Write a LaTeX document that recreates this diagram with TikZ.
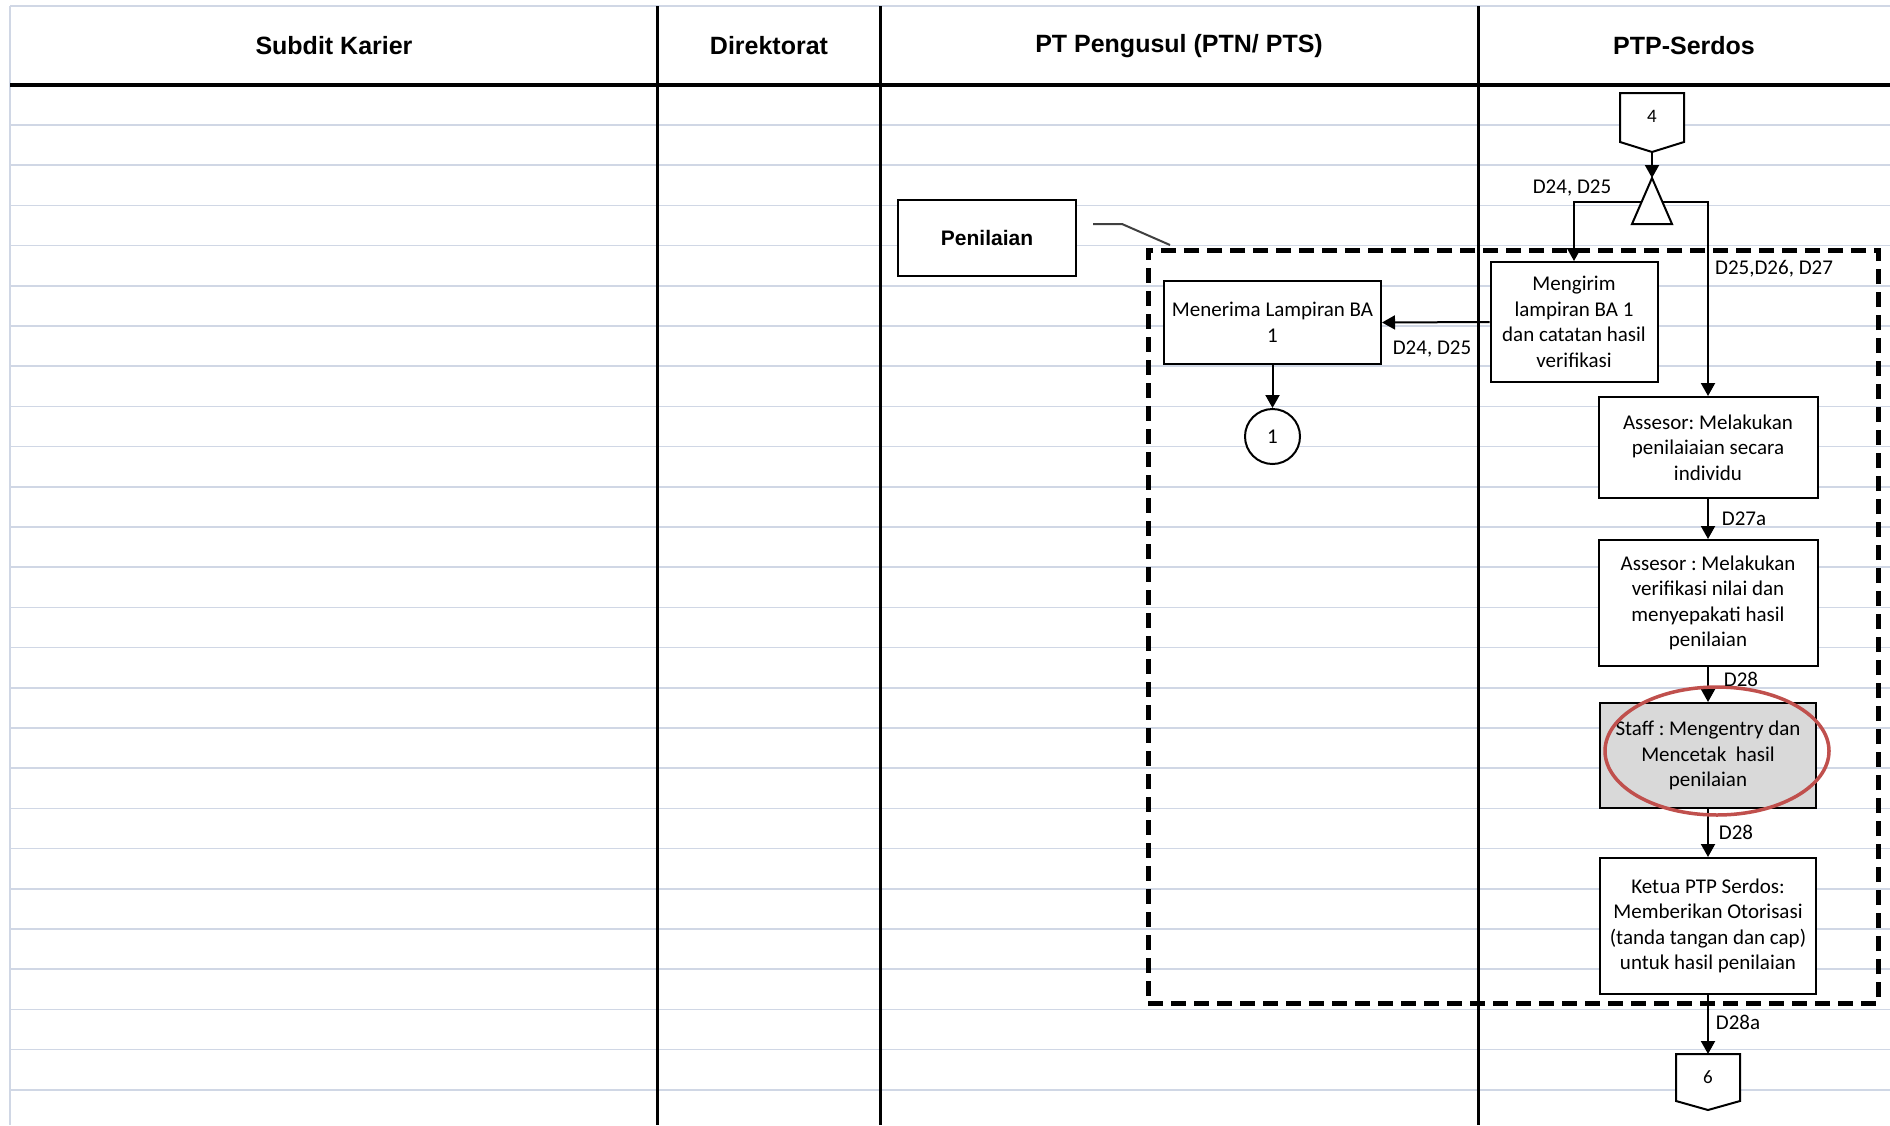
\documentclass[tikz,border=0pt]{standalone}
\usepackage{fontspec}
\setmainfont{Carlito}
\newfontfamily\arialf{Liberation Sans}
\usetikzlibrary{arrows.meta,calc,shapes.geometric}
\definecolor{gridc}{HTML}{D0D7E5}
\definecolor{redc}{HTML}{C0504D}
\definecolor{grayfill}{HTML}{D9D9D9}
\frenchspacing
\begin{document}
\begin{tikzpicture}[x=1pt,y=-1pt,
  box/.style={draw=black, line width=2pt, fill=white, align=center, inner sep=0pt, font=\fontsize{21}{25.5}\selectfont},
  arr/.style={draw=black, line width=2pt, -{Triangle[width=14pt,length=13pt]}},
  lbl/.style={font=\fontsize{21}{25}\selectfont, inner sep=0pt},
  hdr/.style={font=\arialf\bfseries\fontsize{25}{30}\selectfont, inner sep=0pt},
  lane/.style={line width=3pt},
  gridl/.style={gridc, line width=1.5pt},
  shp/.style={draw=black, line width=2pt, fill=white}
]
\useasboundingbox (0,0) rectangle (1890,1125);
\fill[white] (0,0) rectangle (1890,1125);
% grid
\foreach \k in {0,...,24} \draw[gridl] (10,{125+40.2*\k}) -- (1890,{125+40.2*\k});
\draw[gridl] (10,6) -- (1890,6);
\draw[gridl] (10,6) -- (10,1125);
% lanes
\draw[lane] (657,6) -- (657,1125);
\draw[lane] (880,6) -- (880,1125);
\draw[lane] (1478,6) -- (1478,1125);
\draw[line width=4pt] (10,85) -- (1890,85);
\node[hdr] (h1) at (334,46) {Subdit Karier};
\node[hdr] (h2) at (769,46) {Direktorat};
\node[hdr] (h3) at (1179,46) {PT Pengusul (PTN/ PTS)};
\node[hdr] (h4) at (1684,46) {PTP-Serdos};
% group
\node[draw, line width=5pt, dash pattern=on 15pt off 8pt, minimum width=730pt, minimum height=753pt, inner sep=0pt, outer sep=0pt] (grp) at (1513,626.5) {};
\node[box, font=\arialf\bfseries\fontsize{21}{25}\selectfont, minimum width=178pt, minimum height=76pt] (pen) at (987,238) {Penilaian};
\draw[draw=black!75, line width=2pt] ($(pen.east)+(16,-14)$) -- ++(29,0) -- ($(grp.north west)+(22,-5)$);
% nodes
\node[box, minimum width=167pt, minimum height=120pt] (meng) at (1574,322) {Mengirim\\lampiran BA 1\\dan catatan hasil\\verifikasi};
\node[box, minimum width=217pt, minimum height=83pt] (mene) at (1272.5,322.5) {Menerima Lampiran BA\\1};
\node[box, circle, minimum size=55pt] (c1) at (1272.5,436.5) {1};
\node[box, minimum width=219pt, minimum height=101pt] (as1) at (1708,447.5) {Assesor: Melakukan\\penilaiaian secara\\individu};
\node[box, minimum width=219pt, minimum height=126pt] (as2) at (1708,603) {Assesor : Melakukan\\verifikasi nilai dan\\menyepakati hasil\\penilaian};
\node[box, fill=grayfill, minimum width=216pt, minimum height=105pt] (staff) at (1708,755.5) {Staff : Mengentry dan\\Mencetak\ \ hasil\\penilaian};
\node[box, minimum width=216pt, minimum height=136pt] (ketua) at (1708,926) {Ketua PTP Serdos:\\Memberikan Otorisasi\\(tanda tangan dan cap)\\untuk hasil penilaian};
% off-page connectors
\draw[shp] (1620,93) -- (1684,93) -- (1684,142) -- (1652,152) -- (1620,142) -- cycle;
\node[lbl, font=\fontsize{19}{22}\selectfont] (c4) at (1652,116) {4};
\coordinate (c4tip) at (1652,152);
\draw[shp] (1676,1054) -- (1740,1054) -- (1740,1101) -- (1708,1110) -- (1676,1101) -- cycle;
\node[lbl, font=\fontsize{19}{22}\selectfont] (c6) at (1708,1077) {6};
\coordinate (c6top) at (1708,1054);
\coordinate (triTop) at (1652,178);
\coordinate (triMid) at (1652,202);
% connectors
\draw[arr] (c4tip) -- (triTop);
\draw[arr] (triMid) -| (meng.north);
\draw[arr] (triMid) -| (as1.north);
\draw[arr] (meng.west) -- (mene.east);
\draw[arr] (mene.south) -- (c1.north);
\draw[arr] (as1.south) -- (as2.north);
\draw[arr] (as2.south) -- (staff.north);
\draw[arr] (staff.south) -- (ketua.north);
\draw[arr] (ketua.south) -- (c6top);
\filldraw[shp] (triTop) -- (1672,224) -- (1632,224) -- cycle;
% highlight
\node[ellipse, draw=redc, line width=3.5pt, minimum width=224pt, minimum height=128pt, inner sep=0pt] (hl) at (1717,751) {};
% labels
\node[lbl] (l1) at (1572,188) {D24, D25};
\node[lbl] (l2) at (1774,269) {D25,D26, D27};
\node[lbl] (l3) at (1432,349) {D24, D25};
\node[lbl] (l4) at (1744,519) {D27a};
\node[lbl] (l5) at (1741,679) {D28};
\node[lbl] (l6) at (1736,832) {D28};
\node[lbl] (l7) at (1738,1022) {D28a};
\end{tikzpicture}
\end{document}
